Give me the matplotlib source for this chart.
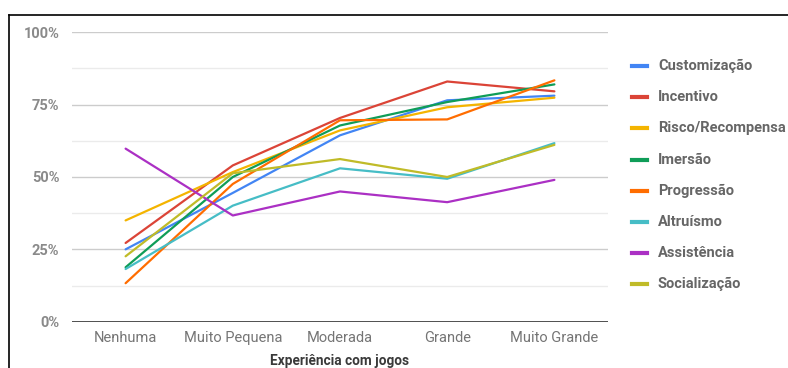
import matplotlib
matplotlib.use("Agg")
import matplotlib.pyplot as plt
from matplotlib.lines import Line2D
from matplotlib.ticker import FuncFormatter, MultipleLocator

plt.rcParams['font.family'] = ['Roboto', 'DejaVu Sans']

# experience levels (x axis)
niveis = ['Nenhuma', 'Muito Pequena', 'Moderada', 'Grande', 'Muito Grande']

# share of players per motivation, in %
customizacao = [25.0, 44.5, 64.4, 76.5, 78.1]
incentivo    = [27.2, 54.0, 70.4, 83.0, 79.6]
risco        = [35.0, 51.7, 66.1, 74.1, 77.4]
imersao      = [18.8, 50.0, 67.8, 75.9, 82.0]
progressao   = [13.3, 47.6, 69.6, 69.9, 83.4]
altruismo    = [18.2, 40.1, 53.0, 49.4, 61.7]
assistencia  = [59.8, 36.7, 45.0, 41.3, 49.0]
socializacao = [22.6, 51.3, 56.2, 50.0, 61.1]

nomes = ['Customização', 'Incentivo', 'Risco/Recompensa', 'Imersão',
         'Progressão', 'Altruísmo', 'Assistência', 'Socialização']
series = [customizacao, incentivo, risco, imersao,
          progressao, altruismo, assistencia, socializacao]
cores = ['#4285F4', '#DB4437', '#F4B400', '#0F9D58',
         '#FF6D00', '#46BDC6', '#AB30C4', '#C0BB28']

fig = plt.figure(figsize=(7.88, 3.68), dpi=100)
ax = fig.add_axes([72 / 788, 1 - 321.7 / 368, 536 / 788, 289.4 / 368])

x = list(range(len(niveis)))
for valores, cor, nome in zip(series, cores, nomes):
    ax.plot(x, valores, color=cor, lw=1.6, label=nome, solid_capstyle='round')

ax.set_xlim(-0.5, len(niveis) - 0.5)
ax.set_ylim(0, 100)
ax.yaxis.set_major_locator(MultipleLocator(25))
ax.yaxis.set_minor_locator(MultipleLocator(12.5))
ax.yaxis.set_major_formatter(FuncFormatter(lambda v, p: f'{v:.0f}%'))
ax.grid(axis='y', which='major', color='#cccccc', lw=1)
ax.grid(axis='y', which='minor', color='#ebebeb', lw=1)
ax.set_axisbelow(True)
ax.axhline(0, color='#333333', lw=1.2, zorder=3)

for s in ax.spines.values():
    s.set_visible(False)
ax.tick_params(axis='both', which='both', length=0)
ax.tick_params(axis='y', pad=9, labelsize=10.5, labelcolor='#8a8a8a')
ax.tick_params(axis='x', pad=7, labelsize=10.5, labelcolor='#757575')
for t in ax.get_yticklabels():
    t.set_fontweight('bold')
ax.set_xticks(x)
ax.set_xticklabels(niveis)

fig.text(340 / 788, 1 - 361 / 368, 'Experiência com jogos', ha='center', va='center',
         fontsize=9.8, fontweight='bold', color='#3a3a3a')

# legend drawn by hand on the right
for i, (cor, nome) in enumerate(zip(cores, nomes)):
    yy = 1 - (66 + i * 31.2) / 368
    fig.add_artist(Line2D([632 / 788, 647 / 788], [yy, yy], color=cor, lw=3,
                          transform=fig.transFigure))
    fig.text(658 / 788, yy, nome, ha='left', va='center', fontsize=10.5,
             fontweight='bold', color='#666666')

# outer frame (top and left edges)
fig.add_artist(Line2D([8.5 / 788, 1], [1 - 14.5 / 368, 1 - 14.5 / 368],
                      color='black', lw=1.2, transform=fig.transFigure))
fig.add_artist(Line2D([8.5 / 788, 8.5 / 788], [0, 1 - 14.5 / 368],
                      color='black', lw=1.2, transform=fig.transFigure))

fig.savefig('out.png', dpi=100)
